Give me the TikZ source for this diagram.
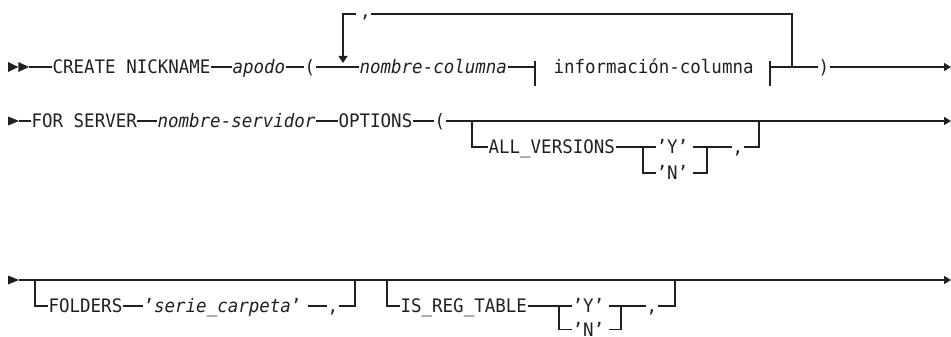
\documentclass[tikz,border=0pt]{standalone}
\usepackage{fontspec}
\usetikzlibrary{arrows.meta}
\newfontfamily\railfont[FakeStretch=0.94]{DejaVu Sans Mono}
\definecolor{ink}{HTML}{231F20}
\begin{document}
\begin{tikzpicture}[x=1pt,y=-1pt,line width=1.2pt,color=ink,
  kw/.style={inner sep=0pt,text height=13.6pt,text depth=0pt,anchor=west,
    font={\railfont\fontsize{18.6}{20}\selectfont}},
  varname/.style={kw,font={\railfont\itshape\fontsize{18.6}{20}\selectfont}},
  endarrow/.style={-{Triangle[length=7pt,width=8pt]}},
  downarrow/.style={-{Triangle[length=7pt,width=9pt]}}]
\useasboundingbox (0,0) rectangle (951,337);

% ---------- row 1: CREATE NICKNAME ----------
\fill (8,62) -- (18.3,67) -- (8,72) -- cycle;
\fill (18.3,62) -- (29,67) -- (18.3,72) -- cycle;
\coordinate (s1) at (29,67);
\node[kw] (create) at (52,67) {CREATE NICKNAME};
\node[varname] (apodo) at (232,67) {apodo};
\node[kw] (lp1) at (304,67) {(};
\node[varname] (ncol) at (359,67) {nombre-columna};
\coordinate (barL) at (535,67);
\coordinate (barLt) at (535,61);
\coordinate (barLb) at (535,86);
\node[kw] (info) at (553,67) {información-columna};
\coordinate (barR) at (770,67);
\coordinate (barRt) at (770,61);
\coordinate (barRb) at (770,86);
\coordinate (loopR) at (792,67);
\coordinate (loopRt) at (792,14);
\coordinate (loopLt) at (343,14);
\coordinate (loopTip) at (343,63);
\node[kw] (csep) at (359.5,14) {\raisebox{3pt}{,}};
\node[kw] (rp1) at (818,67) {)};
\coordinate (e1) at (951,67);

\draw (s1) -- (create);
\draw (create) -- (apodo);
\draw (apodo) -- (lp1);
\draw (lp1) -- (ncol);
\draw (ncol) -- (barL);
\draw (barLt) -- (barLb);
\draw (barRt) -- (barRb);
\draw (barR) -- (rp1);
\draw[endarrow] (rp1) -- (e1);
\draw (loopR) -- (loopRt) -- (csep);
\draw[downarrow] ([xshift=-4pt]csep.west) -- (loopLt) -- (loopTip);

% ---------- row 2: FOR SERVER ... OPTIONS ----------
\fill (8,116.5) -- (19,121) -- (8,125.5) -- cycle;
\coordinate (s2) at (19,121);
\node[kw] (forsrv) at (31,121) {FOR SERVER};
\node[varname] (nsrv) at (157,121) {nombre-servidor};
\node[kw] (opts) at (338,121) {OPTIONS};
\node[kw] (lp2) at (434,121) {(};
\coordinate (b2) at (472,121);
\coordinate (b2d) at (472,147);
\node[kw] (allv) at (488,147) {ALL\_VERSIONS};
\coordinate (av) at (643,147);
\coordinate (av2) at (643,173);
\node[kw] (y1) at (656,147) {’Y’};
\node[kw] (n1) at (656,173) {’N’};
\coordinate (avR) at (707,147);
\coordinate (avR2) at (707,173);
\node[kw] (c2) at (732,147) {,};
\coordinate (j2) at (759,147);
\coordinate (j2u) at (759,121);
\coordinate (e2) at (951,121);

\draw (s2) -- (forsrv);
\draw (forsrv) -- (nsrv);
\draw (nsrv) -- (opts);
\draw (opts) -- (lp2);
\draw[endarrow] (lp2) -- (e2);
\draw (b2) -- (b2d) -- (allv);
\draw (allv) -- (av) -- (y1);
\draw (av) -- (av2) -- (n1);
\draw ([xshift=4pt]y1.east) -- (avR) -- (avR2) -- ([xshift=4pt]n1.east);
\draw (avR) -- (c2);
\draw (c2) -- (j2) -- (j2u);

% ---------- row 3: FOLDERS, IS_REG_TABLE ----------
\fill (8,275.5) -- (19,280) -- (8,284.5) -- cycle;
\coordinate (s3) at (19,280);
\coordinate (e3) at (951,280);
\coordinate (b3) at (35,280);
\coordinate (b3d) at (35,306);
\node[kw] (fold) at (48,306) {FOLDERS};
\node[kw] (scarp) at (143,306) {’\textit{serie\_carpeta}’};
\node[kw] (c3) at (327,306) {,};
\coordinate (j3) at (355,306);
\coordinate (j3u) at (355,280);
\coordinate (b4) at (387,280);
\coordinate (b4d) at (387,306);
\node[kw] (isreg) at (400,306) {IS\_REG\_TABLE};
\coordinate (rt) at (559,306);
\coordinate (rt2) at (559,329.5);
\node[kw] (y2) at (572,306) {’Y’};
\node[kw] (n2) at (572,329.5) {’N’};
\coordinate (rtR) at (621,306);
\coordinate (rtR2) at (621,329.5);
\node[kw] (c4) at (646,306) {,};
\coordinate (j4) at (675,306);
\coordinate (j4u) at (675,280);

\draw[endarrow] (s3) -- (e3);
\draw (b3) -- (b3d) -- (fold);
\draw (fold) -- (scarp);
\draw ([xshift=6pt]scarp.east) -- (c3);
\draw (c3) -- (j3) -- (j3u);
\draw (b4) -- (b4d) -- (isreg);
\draw (isreg) -- (rt) -- (y2);
\draw (rt) -- (rt2) -- (n2);
\draw ([xshift=4pt]y2.east) -- (rtR) -- (rtR2) -- ([xshift=4pt]n2.east);
\draw (rtR) -- (c4);
\draw (c4) -- (j4) -- (j4u);
\end{tikzpicture}
\end{document}
